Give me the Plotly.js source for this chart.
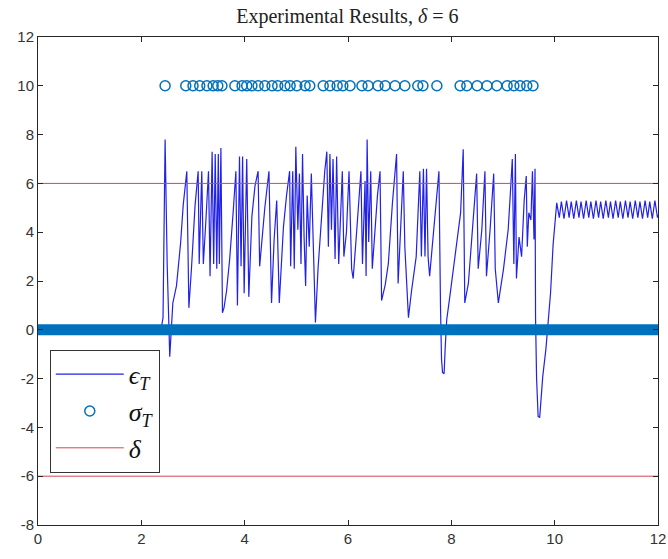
<!DOCTYPE html>
<html>
<head>
<meta charset="utf-8">
<script src="https://cdn.plot.ly/plotly-3.0.1.min.js"></script>
<style>html,body{margin:0;padding:0;background:#fff;}#chart{width:668px;height:559px;}</style>
</head>
<body>
<div id="chart"></div>
<script>
// epsilon_T signal
var epsX = [0,2.38,2.42,2.46,2.50,2.55,2.61,2.68,2.76,2.81,2.88,2.92,2.97,3.04,3.10,3.12,3.17,3.20,3.25,3.30,3.33,3.37,3.40,3.43,3.46,3.49,3.51,3.54,3.57,3.60,3.65,3.71,3.78,3.83,3.86,3.90,3.93,3.96,3.99,4.04,4.08,4.14,4.20,4.26,4.29,4.34,4.39,4.47,4.52,4.57,4.62,4.67,4.75,4.81,4.87,4.89,4.93,4.96,4.99,5.03,5.06,5.09,5.12,5.15,5.18,5.21,5.25,5.29,5.33,5.37,5.42,5.49,5.55,5.59,5.62,5.65,5.68,5.71,5.75,5.78,5.82,5.89,5.92,5.97,6.02,6.07,6.10,6.17,6.25,6.28,6.33,6.35,6.37,6.40,6.44,6.47,6.52,6.57,6.62,6.65,6.72,6.78,6.86,6.91,6.94,6.97,7.02,7.07,7.10,7.17,7.23,7.32,7.39,7.42,7.46,7.49,7.52,7.55,7.58,7.68,7.76,7.79,7.81,7.83,7.86,7.88,7.91,7.97,8.07,8.18,8.23,8.26,8.33,8.41,8.49,8.52,8.59,8.65,8.68,8.75,8.82,8.85,8.91,9.01,9.10,9.14,9.18,9.21,9.24,9.26,9.31,9.36,9.41,9.45,9.47,9.50,9.54,9.57,9.60,9.62,9.63,9.65,9.68,9.71,9.74,9.77,9.83,9.87,9.92,9.97,10.01,10.04,10.09,10.13,10.18,10.23,10.28,10.32,10.37,10.42,10.47,10.51,10.56,10.61,10.66,10.70,10.75,10.80,10.85,10.89,10.94,10.99,11.04,11.08,11.13,11.18,11.23,11.27,11.32,11.37,11.42,11.46,11.51,11.56,11.61,11.65,11.70,11.75,11.80,11.84,11.89,11.94,11.99,12.0];
var epsY = [0,0,0.5,7.8,2.7,-1.1,1.1,1.8,3.55,5.1,6.5,0.9,2.5,5.1,6.5,2.7,6.5,2.7,4.5,6.5,2.2,7.3,2.7,7.2,2.5,7.2,2.7,7.45,0.7,0.9,1.6,2.9,4.9,6.5,1.0,7.1,2.6,7.1,1.5,7.0,1.35,4.65,5.9,6.5,2.6,4.0,5.0,6.5,1.1,3.7,5.3,1.1,4.2,5.5,6.5,2.6,6.5,2.5,7.5,4.1,6.4,2.7,7.2,3.8,1.8,5.5,3.4,6.4,2.7,0.3,2.5,4.9,6.5,7.3,3.4,7.2,4.1,7.0,2.9,7.1,2.7,6.5,3.0,4.0,6.5,2.5,2.1,4.1,6.5,2.7,6.1,2.2,7.8,3.6,6.5,2.5,4.1,5.5,6.5,1.2,1.84,2.7,5.2,6.5,7.2,1.9,4.2,6.5,3.4,0.5,1.6,3.0,6.5,3.0,6.6,3.0,6.6,3.0,2.2,4.8,6.5,1.0,-1.2,-1.75,-1.8,-0.8,0.4,1.35,3.0,4.8,7.4,1.1,1.9,4.1,6.4,2.5,4.1,6.5,2.2,4.1,6.4,2.5,1.1,2.5,4.1,5.5,7.0,2.7,7.2,2.1,3.8,3.0,5.3,6.3,3.4,4.8,4.5,6.5,3.7,6.6,0.5,-2.0,-3.55,-3.6,-2.8,-1.9,-0.8,0.1,1.5,3.5,4.5,5.2,4.6,5.25,4.55,5.3,4.6,5.25,4.55,5.3,4.6,5.25,4.55,5.3,4.6,5.25,4.55,5.3,4.6,5.25,4.55,5.3,4.6,5.25,4.55,5.3,4.6,5.25,4.55,5.3,4.6,5.25,4.55,5.3,4.6,5.25,4.55,5.3,4.6,5.25,4.55,5.3,4.6,4.7];

// sigma_T event times (value 10) and its zero level
var sigmaX = [2.46,2.86,3.00,3.13,3.27,3.39,3.48,3.56,3.81,3.95,4.04,4.14,4.26,4.39,4.53,4.64,4.78,4.88,5.01,5.17,5.26,5.52,5.65,5.79,5.90,6.04,6.27,6.39,6.58,6.72,6.91,7.10,7.35,7.45,7.72,8.17,8.30,8.50,8.69,8.88,9.08,9.21,9.33,9.46,9.58];
var sigmaHigh = 10;
var sigmaZeroX = [0, 12];
var sigmaZeroY = [0, 0];

// threshold
var delta = 6;
var deltaX = [0, 12, null, 0, 12];
var deltaY = [delta, delta, null, -delta, -delta];

// tick labels
var xTickVals = [0, 2, 4, 6, 8, 10, 12];
var xTickText = ['0', '2', '4', '6', '8', '10', '12'];
var yTickVals = [-8, -6, -4, -2, 0, 2, 4, 6, 8, 10, 12];
var yTickText = ['-8', '-6', '-4', '-2', '0', '2', '4', '6', '8', '10', '12'];

var sigmaY = sigmaX.map(function(){ return sigmaHigh; });

var traces = [
  {x: epsX, y: epsY, mode: 'lines', name: '<i>ϵ</i><sub><i>T</i></sub>',
   line: {color: '#2222e6', width: 1.2}},
  {x: sigmaZeroX, y: sigmaZeroY, mode: 'lines', showlegend: false, hoverinfo: 'skip',
   line: {color: '#0072BD', width: 11}},
  {x: sigmaX, y: sigmaY, mode: 'markers', name: '<i>σ</i><sub><i>T</i></sub>',
   marker: {symbol: 'circle-open', size: 10, color: '#0072BD', line: {width: 1.5}}},
  {x: deltaX, y: deltaY, mode: 'lines', name: '<i>δ</i>',
   line: {color: '#d6454f', width: 1}}
];

var axisCommon = {
  ticks: 'inside', ticklen: 5, tickwidth: 1, tickcolor: '#262626',
  showline: true, mirror: 'ticks', linecolor: '#262626', linewidth: 1,
  showgrid: false, zeroline: false, tickmode: 'array',
  tickfont: {family: 'Liberation Sans, Arial, sans-serif', size: 15, color: '#333'}
};

var layout = {
  width: 668, height: 559,
  margin: {l: 38, r: 10, t: 37, b: 34},
  paper_bgcolor: '#fff', plot_bgcolor: '#fff',
  title: {text: 'Experimental Results, <i>δ</i> = 6',
          font: {family: 'Liberation Serif, DejaVu Serif, serif', size: 20, color: '#222'},
          x: 0.52, xanchor: 'center', y: 0.972, yanchor: 'middle'},
  xaxis: Object.assign({}, axisCommon, {range: [0, 12], tickvals: xTickVals, ticktext: xTickText}),
  yaxis: Object.assign({}, axisCommon, {range: [-8, 12], tickvals: yTickVals, ticktext: yTickText}),
  showlegend: true,
  legend: {x: 0.019, y: 0.359, xanchor: 'left', yanchor: 'top',
           bgcolor: '#fff', bordercolor: '#333', borderwidth: 1,
           itemwidth: 68,
           font: {family: 'Liberation Serif, DejaVu Serif, serif', size: 26, color: '#111'}}
};

Plotly.newPlot('chart', traces, layout, {displayModeBar: false, staticPlot: true});
</script>
</body>
</html>
